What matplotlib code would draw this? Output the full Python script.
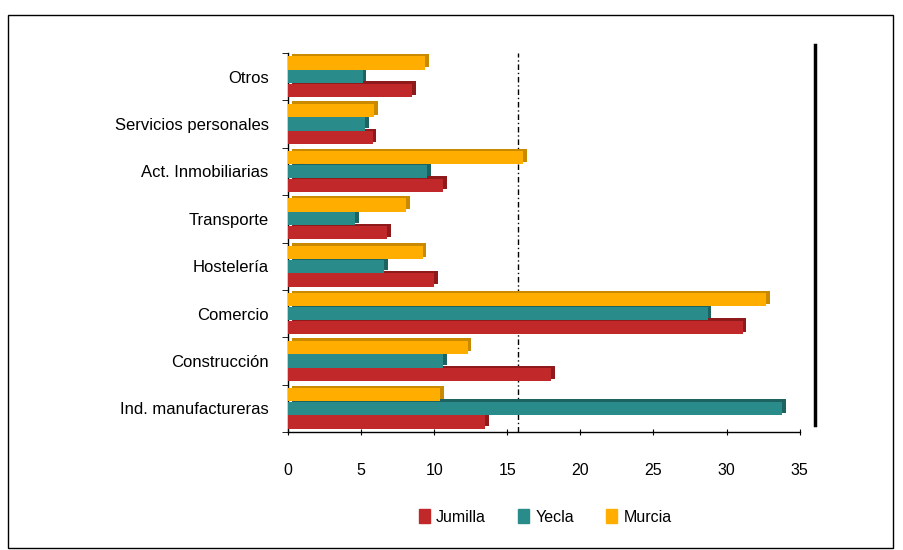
import numpy as np
import matplotlib.pyplot as plt
from matplotlib.patches import Rectangle
from matplotlib.lines import Line2D

plt.rcParams['font.family'] = ['Liberation Sans', 'DejaVu Sans']

# categories, bottom to top
sectores = ["Ind. manufactureras", "Construcción", "Comercio", "Hostelería",
            "Transporte", "Act. Inmobiliarias", "Servicios personales", "Otros"]
jumilla = [13.5, 18.0, 31.1, 10.0, 6.8, 10.6, 5.8, 8.5]
yecla = [33.8, 10.6, 28.7, 6.6, 4.6, 9.5, 5.3, 5.1]
murcia = [10.4, 12.3, 32.7, 9.2, 8.1, 16.1, 5.9, 9.4]
referencia = 15.7

series = [("Jumilla", jumilla, "#C0282A", "#8E1A1C", -0.29),
          ("Yecla", yecla, "#2A8C8A", "#1C6361", 0.0),
          ("Murcia", murcia, "#FFAE00", "#C98A00", 0.29)]

fig = plt.figure(figsize=(9.04, 5.5), dpi=100)
ax = fig.add_axes([0.3186, 0.2145, 0.566, 0.689])

y = np.arange(len(sectores))
h = 0.28
for name, vals, col, dark, off in series:
    # back face for a little depth
    ax.barh(y + off + 0.05, vals, height=h, left=0.25, color=dark, zorder=2)
    ax.barh(y + off, vals, height=h, color=col, zorder=3, label=name)

ax.axvline(referencia, color="black", linestyle=(0, (4, 2, 1, 2)), linewidth=1, zorder=1)

ax.set_xlim(0, 35)
ax.set_ylim(-0.5, len(sectores) - 0.5)
ax.set_xticks(np.arange(0, 36, 5))
ax.set_yticks(y)
ax.set_yticklabels(sectores, fontsize=12)
ax.set_yticks(np.arange(-0.5, len(sectores), 1), minor=True)
ax.tick_params(axis="y", which="major", length=0, pad=14)
ax.tick_params(axis="y", which="minor", length=4, direction="out")
ax.tick_params(axis="x", length=4, direction="inout", pad=20, labelsize=11.5)

for s in ["top", "right"]:
    ax.spines[s].set_visible(False)
ax.spines["left"].set_linewidth(1)
ax.spines["bottom"].set_linewidth(1)

# legend below the chart
handles = [Rectangle((0, 0), 1, 1, color=c) for _, _, c, _, _ in series]
fig.legend(handles, [n for n, _, _, _, _ in series], loc="center",
           bbox_to_anchor=(0.603, 0.06), ncol=3, frameon=False, fontsize=11.5,
           handlelength=0.7, handleheight=0.9, columnspacing=2.0, handletextpad=0.4)

# outer frame and right rule
fig.add_artist(Rectangle((0.009, 0.004), 0.979, 0.969, transform=fig.transFigure,
                         fill=False, edgecolor="black", linewidth=1))
fig.add_artist(Line2D([0.9015, 0.9015], [0.227, 0.918], transform=fig.transFigure,
                      color="black", linewidth=2.5))

fig.savefig("out.png", dpi=100)
